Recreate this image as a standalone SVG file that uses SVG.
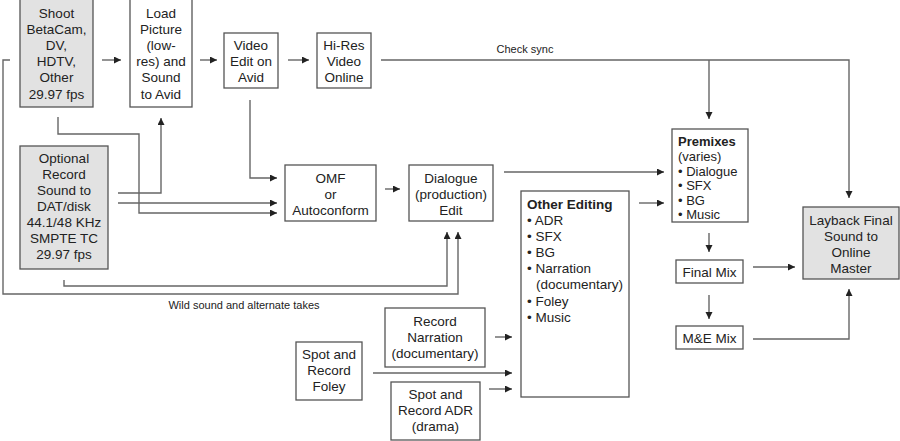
<svg xmlns="http://www.w3.org/2000/svg" width="900" height="441" viewBox="0 0 900 441">
<style>
.b{fill:#fff;stroke:#555;stroke-width:1.3}
.g{fill:#e2e2e2;stroke:#555;stroke-width:1.3}
text{font-family:"Liberation Sans",Arial,sans-serif;font-size:13.5px;fill:#222}
.c{text-anchor:middle}
.bo{font-weight:bold}
.sm{font-size:11px}
.pm{font-size:13px}
.ln{fill:none;stroke:#666;stroke-width:1.4}
.a{marker-end:url(#ah)}
</style>
<defs>
<marker id="ah" markerUnits="userSpaceOnUse" markerWidth="8" markerHeight="8" refX="7" refY="3.5" orient="auto">
<path d="M0,0 L7,3.5 L0,7 z" fill="#222"/>
</marker>
</defs>
<rect width="900" height="441" fill="#fff"/>
<g id="connectors">
<path class="ln a" d="M102,60 H121"/>
<path class="ln a" d="M200,60 H217"/>
<path class="ln a" d="M288,60 H309"/>
<path class="ln a" d="M381,60 H849 V198"/>
<path class="ln a" d="M709,60 V119"/>
<path class="ln a" d="M10,60 H3 V294 H458 V232"/>
<path class="ln a" d="M64,280 V286 H447 V232"/>
<path class="ln a" d="M58,117 V134 H139 V213 H277"/>
<path class="ln a" d="M118,193 H161 V118"/>
<path class="ln a" d="M118,203 H277"/>
<path class="ln a" d="M250,100 V178 H277"/>
<path class="ln a" d="M385,189 H400"/>
<path class="ln a" d="M504,172 H664"/>
<path class="ln a" d="M639,203 H664"/>
<path class="ln a" d="M709,233 V252"/>
<path class="ln a" d="M709,295 V319"/>
<path class="ln a" d="M753,267 H795"/>
<path class="ln a" d="M753,339 H849 V289"/>
<path class="ln a" d="M495,337 H512"/>
<path class="ln a" d="M373,373 H512"/>
<path class="ln a" d="M489,389 H512"/>
<text class="c sm" x="525" y="53">Check sync</text>
<text class="c sm" x="244" y="309">Wild sound and alternate takes</text>
</g>
<g id="shoot">
<rect class="g" x="20" y="-1" width="73" height="108"/>
<text class="c" x="56.5" y="18">Shoot</text>
<text class="c" x="56.5" y="34">BetaCam,</text>
<text class="c" x="56.5" y="50">DV,</text>
<text class="c" x="56.5" y="66">HDTV,</text>
<text class="c" x="56.5" y="82">Other</text>
<text class="c" x="56.5" y="99">29.97 fps</text>
</g>
<g id="load">
<rect class="b" x="130" y="-1" width="62" height="108"/>
<text class="c" x="161" y="18">Load</text>
<text class="c" x="161" y="34">Picture</text>
<text class="c" x="161" y="50">(low-</text>
<text class="c" x="161" y="66">res) and</text>
<text class="c" x="161" y="82">Sound</text>
<text class="c" x="161" y="99">to Avid</text>
</g>
<g id="video">
<rect class="b" x="224" y="33" width="54" height="55"/>
<text class="c" x="251" y="50">Video</text>
<text class="c" x="251" y="66">Edit on</text>
<text class="c" x="251" y="82">Avid</text>
</g>
<g id="hires">
<rect class="b" x="317" y="33" width="54" height="55"/>
<text class="c" x="344" y="50">Hi-Res</text>
<text class="c" x="344" y="66">Video</text>
<text class="c" x="344" y="82">Online</text>
</g>
<g id="optional">
<rect class="g" x="20" y="146" width="88" height="123"/>
<text class="c" x="64" y="163">Optional</text>
<text class="c" x="64" y="179">Record</text>
<text class="c" x="64" y="195">Sound to</text>
<text class="c" x="64" y="211">DAT/disk</text>
<text class="c" x="64" y="227">44.1/48 KHz</text>
<text class="c" x="64" y="243">SMPTE TC</text>
<text class="c" x="64" y="259">29.97 fps</text>
</g>
<g id="omf">
<rect class="b" x="285" y="165" width="91" height="56"/>
<text class="c" x="330.5" y="183">OMF</text>
<text class="c" x="330.5" y="199">or</text>
<text class="c" x="330.5" y="215">Autoconform</text>
</g>
<g id="dialogue">
<rect class="b" x="409" y="165" width="84" height="56"/>
<text class="c" x="451" y="183">Dialogue</text>
<text class="c" x="451" y="199">(production)</text>
<text class="c" x="451" y="215">Edit</text>
</g>
<g id="other">
<rect class="b" x="521" y="191" width="108" height="206"/>
<text class="bo" x="527" y="209">Other Editing</text>
<text x="527" y="225">• ADR</text>
<text x="527" y="241">• SFX</text>
<text x="527" y="257">• BG</text>
<text x="527" y="273">• Narration</text>
<text x="536" y="289">(documentary)</text>
<text x="527" y="306">• Foley</text>
<text x="527" y="322">• Music</text>
</g>
<g id="premixes">
<rect class="b" x="672" y="129" width="76" height="93"/>
<text class="bo pm" x="678" y="146">Premixes</text>
<text class="pm" x="678" y="161">(varies)</text>
<text class="pm" x="678" y="175.5">• Dialogue</text>
<text class="pm" x="678" y="190">• SFX</text>
<text class="pm" x="678" y="204.5">• BG</text>
<text class="pm" x="678" y="219">• Music</text>
</g>
<g id="finalmix">
<rect class="b" x="676" y="260" width="67" height="23"/>
<text class="c" x="709.5" y="277">Final Mix</text>
</g>
<g id="memix">
<rect class="b" x="676" y="326" width="67" height="23"/>
<text class="c" x="709.5" y="343">M&amp;E Mix</text>
</g>
<g id="layback">
<rect class="g" x="803" y="207" width="96" height="72"/>
<text class="c" x="851" y="225">Layback Final</text>
<text class="c" x="851" y="241">Sound to</text>
<text class="c" x="851" y="257">Online</text>
<text class="c" x="851" y="273">Master</text>
</g>
<g id="narration">
<rect class="b" x="385" y="308" width="100" height="59"/>
<text class="c" x="435" y="326">Record</text>
<text class="c" x="435" y="342">Narration</text>
<text class="c" x="435" y="358">(documentary)</text>
</g>
<g id="foley">
<rect class="b" x="296" y="342" width="66" height="58"/>
<text class="c" x="329" y="359">Spot and</text>
<text class="c" x="329" y="375">Record</text>
<text class="c" x="329" y="391">Foley</text>
</g>
<g id="adr">
<rect class="b" x="391" y="382" width="89" height="58"/>
<text class="c" x="435.5" y="399">Spot and</text>
<text class="c" x="435.5" y="415">Record ADR</text>
<text class="c" x="435.5" y="431">(drama)</text>
</g>
</svg>
